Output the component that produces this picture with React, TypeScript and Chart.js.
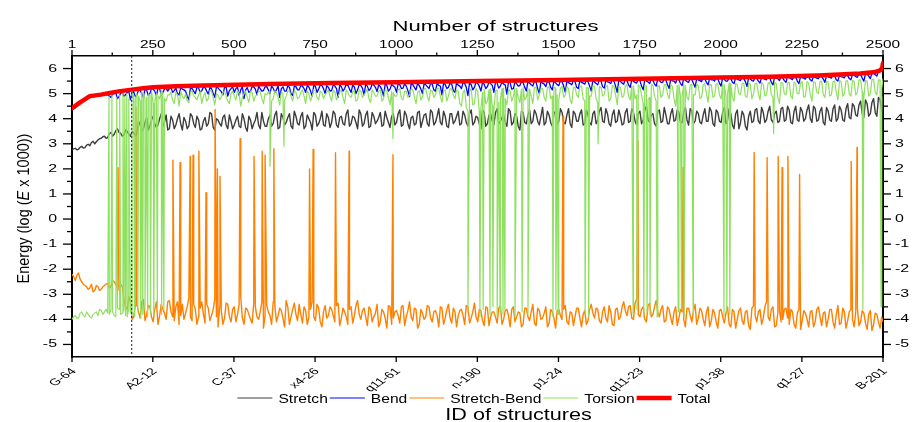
import React, { useEffect, useRef } from 'react';
import { Chart, registerables } from 'chart.js';

Chart.register(...registerables);

// ---------- axes ----------
const X_MIN = 1;
const X_MAX = 2500;
const STEP = 10; // spacing (in structures) of the sampled series below
const MID_OFFSET = 5; // the *_MID arrays are sampled half-way between
const Y_MIN = -5.5;
const Y_MAX = 6.5;
const DIVIDER_X = 185;

const TOP_TICKS = [1, 250, 500, 750, 1000, 1250, 1500, 1750, 2000, 2250, 2500];
const TOP_MINOR = [125, 375, 625, 875, 1125, 1375, 1625, 1875, 2125, 2375];
const ID_LABELS = ['G-64', 'A2-12', 'C-37', 'x4-26', 'q11-61', 'n-190', 'p1-24', 'q11-23', 'p1-38', 'q1-27', 'B-201'];
const Y_TICKS = [-5, -4, -3, -2, -1, 0, 1, 2, 3, 4, 5, 6];
const Y_MINOR = [-4.5, -3.5, -2.5, -1.5, -0.5, 0.5, 1.5, 2.5, 3.5, 4.5, 5.5];

// ---------- data ----------
const TOTAL_X = [1, 10, 26, 56, 90, 118, 150, 186, 220, 251, 320, 405, 611, 800, 1000, 1258, 1500, 1905, 2150, 2300, 2430, 2470, 2490, 2497, 2500];
const TOTAL_Y = [4.42, 4.5, 4.65, 4.9, 4.96, 5.03, 5.1, 5.16, 5.21, 5.25, 5.29, 5.32, 5.38, 5.42, 5.45, 5.5, 5.54, 5.62, 5.67, 5.72, 5.8, 5.85, 5.92, 6.0, 6.22];

const STRETCH = [
  2.75, 2.82, 2.78, 2.9, 2.85, 2.98, 3.05, 3.0, 3.15, 3.22,
  3.3, 3.25, 3.45, 3.38, 3.6, 3.42, 3.35, 3.5, 3.3, 3.45,
  3.4, 3.75, 3.6, 4.05, 3.7, 4.1, 3.65, 4.0, 3.7, 4.15,
  3.6, 3.95, 3.75, 4.2, 3.55, 3.9, 3.7, 4.1, 3.65, 3.95,
  3.6, 4.05, 3.8, 4.2, 3.55, 3.95, 3.7, 4.15, 3.6, 3.9,
  3.75, 4.1, 3.65, 4.0, 3.5, 3.95, 3.8, 4.25, 3.6, 3.9,
  3.7, 4.15, 3.8, 4.3, 3.65, 4.05, 3.85, 4.2, 3.6, 4.1,
  3.75, 4.25, 3.7, 4.0, 3.55, 4.15, 3.8, 4.3, 3.7, 4.05,
  3.85, 4.2, 3.65, 4.1, 3.75, 4.35, 3.8, 4.05, 3.6, 4.2,
  3.8, 4.3, 3.7, 4.1, 3.9, 4.25, 3.75, 4.05, 3.65, 4.2,
  3.85, 4.35, 3.75, 4.15, 3.6, 4.1, 3.8, 4.3, 3.9, 4.2,
  3.7, 4.25, 3.85, 4.4, 3.75, 4.1, 3.65, 4.2, 3.9, 4.3,
  3.8, 4.15, 3.7, 4.35, 3.85, 4.05, 3.6, 4.25, 3.8, 4.2,
  3.75, 4.4, 3.9, 4.15, 3.7, 4.3, 3.85, 4.1, 3.55, 4.25,
  3.8, 4.35, 3.9, 4.2, 3.75, 4.45, 3.85, 4.15, 3.7, 4.3,
  3.9, 4.25, 3.8, 4.4, 3.65, 4.2, 3.9, 4.35, 3.8, 4.15,
  3.75, 4.3, 3.95, 4.45, 3.85, 4.2, 3.7, 4.35, 3.9, 4.1,
  3.8, 4.4, 3.9, 4.25, 3.75, 4.3, 3.95, 4.5, 3.85, 4.2,
  3.7, 4.35, 3.9, 4.15, 3.8, 4.4, 3.95, 4.25, 3.85, 4.45,
  3.75, 4.3, 3.9, 4.2, 3.8, 4.4, 3.9, 4.3, 3.7, 4.25,
  3.85, 4.45, 3.95, 4.2, 3.6, 4.35, 3.85, 4.15, 3.55, 4.3,
  3.9, 4.4, 3.8, 4.25, 3.95, 4.5, 3.85, 4.3, 3.9, 4.45,
  3.95, 4.35, 3.8, 4.5, 3.9, 4.3, 4.0, 4.55, 3.85, 4.4,
  3.95, 4.45, 3.75, 4.3, 3.9, 4.55, 4.0, 4.35, 3.9, 4.6,
  4.0, 4.5, 4.1, 4.7, 4.05, 4.6, 4.2, 4.8, 4.1, 4.75,
  4.9,
];
const STRETCH_MID = [
  2.8, 2.76, 2.86, 2.83, 2.95, 2.92, 3.1, 3.08, 3.2, 3.28,
  3.22, 3.4, 3.3, 3.52, 3.45, 3.3, 3.55, 3.38, 3.48, 3.32,
  3.9, 3.5, 3.85, 3.55, 3.95, 3.8, 3.75, 4.2, 3.85, 3.55,
  4.1, 3.6, 4.0, 3.8, 4.05, 3.6, 4.2, 3.8, 4.1, 3.55,
  3.9, 3.7, 4.25, 3.65, 4.0, 3.8, 4.05, 3.75, 4.15, 3.6,
  3.95, 3.7, 4.2, 3.65, 4.1, 3.6, 3.95, 3.75, 4.25, 3.7,
  4.0, 3.7, 4.15, 3.6, 4.2, 3.75, 4.05, 3.7, 4.3, 3.8,
  4.1, 3.6, 4.15, 3.85, 4.25, 3.7, 4.0, 3.75, 4.2, 3.65,
  4.3, 3.75, 4.05, 3.8, 4.2, 3.7, 4.1, 3.85, 4.35, 3.7,
  4.15, 3.65, 4.25, 3.8, 4.05, 3.7, 4.3, 3.85, 4.1, 3.75,
  4.2, 3.7, 4.3, 3.8, 4.05, 3.75, 4.25, 3.65, 4.15, 3.8,
  4.35, 3.75, 4.1, 3.85, 4.3, 3.7, 4.2, 3.8, 4.1, 3.75,
  4.3, 3.85, 4.2, 3.75, 4.1, 3.8, 4.35, 3.7, 4.15, 3.9,
  4.25, 3.8, 4.05, 3.85, 4.4, 3.75, 4.2, 3.7, 4.3, 3.85,
  4.15, 3.8, 4.35, 3.9, 4.1, 3.75, 4.3, 3.85, 4.2, 3.75,
  4.4, 3.85, 4.15, 3.8, 4.3, 3.9, 4.2, 3.75, 4.35, 3.85,
  4.2, 3.8, 4.3, 3.9, 4.4, 3.8, 4.15, 3.85, 4.35, 3.75,
  4.25, 3.85, 4.4, 3.9, 4.2, 3.8, 4.35, 3.95, 4.15, 3.8,
  4.3, 3.85, 4.45, 3.8, 4.2, 3.9, 4.35, 3.85, 4.25, 3.95,
  4.4, 3.8, 4.3, 3.85, 4.15, 3.9, 4.45, 3.8, 4.35, 3.9,
  4.25, 3.8, 4.4, 3.75, 4.2, 3.6, 4.3, 3.7, 4.1, 3.85,
  4.35, 3.9, 4.45, 3.85, 4.3, 3.95, 4.2, 3.85, 4.4, 3.9,
  4.5, 3.85, 4.3, 3.95, 4.45, 3.9, 4.35, 4.0, 4.5, 3.9,
  4.3, 3.85, 4.45, 3.95, 4.4, 3.9, 4.5, 3.95, 4.4, 4.05,
  4.6, 4.15, 4.55, 4.2, 4.75, 4.1, 4.65, 4.25, 4.85, 4.3,
];

const BEND = [
  4.38, 4.43, 4.55, 4.68, 4.78, 4.84, 4.86, 4.88, 4.9, 4.92, 4.94,
  4.95, 4.85, 5.0, 4.8, 5.02, 4.9, 5.05, 4.75, 5.08,
  4.95, 5.12, 4.85, 5.15, 5.0, 5.18, 4.9, 5.2, 5.05, 5.22,
  5.2, 5.05, 5.22, 4.95, 5.18, 5.1, 4.75, 5.2, 5.0, 5.23,
  5.12, 5.24, 4.98, 5.2, 4.85, 5.22, 5.08, 5.25, 4.9, 5.2,
  5.05, 5.26, 5.15, 4.8, 5.24, 5.1, 5.27, 4.95, 5.2, 5.12,
  5.28, 5.0, 5.22, 5.15, 4.85, 5.27, 5.1, 5.25, 4.92, 5.28,
  5.15, 5.3, 5.05, 5.26, 4.9, 5.3, 5.18, 5.32, 5.0, 5.25,
  5.12, 5.3, 4.85, 5.28, 5.2, 5.33, 5.05, 5.27, 5.15, 5.32,
  4.95, 5.3, 5.2, 5.34, 5.08, 5.28, 4.9, 5.33, 5.18, 5.3,
  5.05, 5.35, 5.22, 5.3, 4.88, 5.36, 5.15, 5.32, 5.0, 5.35,
  5.2, 5.37, 5.1, 5.33, 4.95, 5.36, 5.25, 5.38, 5.05, 5.34,
  5.2, 5.4, 4.92, 5.36, 5.25, 5.41, 5.1, 5.37, 5.28, 5.4,
  5.05, 5.42, 5.3, 5.38, 4.98, 5.43, 5.2, 5.4, 5.32, 5.44,
  5.1, 5.41, 5.3, 5.45, 5.0, 5.42, 5.28, 5.46, 5.15, 5.43,
  5.32, 5.47, 5.05, 5.44, 5.35, 5.48, 5.2, 5.45, 5.38, 5.47,
  5.1, 5.46, 5.35, 5.5, 5.22, 5.47, 5.4, 5.5, 5.05, 5.48,
  5.38, 5.51, 5.25, 5.49, 5.42, 5.52, 5.15, 5.5, 5.4, 5.53,
  5.3, 5.52, 5.45, 5.54, 5.2, 5.51, 5.42, 5.55, 5.32, 5.53,
  5.45, 5.56, 5.25, 5.54, 5.48, 5.58, 5.35, 5.55, 5.5, 5.58,
  5.3, 5.57, 5.5, 5.6, 5.4, 5.57, 5.52, 5.6, 5.28, 5.58,
  5.5, 5.62, 5.42, 5.6, 5.55, 5.63, 5.35, 5.61, 5.52, 5.63,
  5.45, 5.64, 5.56, 5.66, 5.4, 5.63, 5.58, 5.66, 5.5, 5.65,
  5.6, 5.68, 5.45, 5.67, 5.62, 5.7, 5.5, 5.68, 5.63, 5.72,
  5.55, 5.73, 5.65, 5.76, 5.5, 5.78, 5.6, 5.82, 5.7, 5.9,
  6.1,
];
const BEND_MID = [
  4.4, 4.5, 4.62, 4.73, 4.81, 4.85, 4.87, 4.89, 4.91, 4.93,
  4.97, 4.9, 4.98, 5.03, 4.88, 5.05, 4.95, 5.1, 5.0, 4.88,
  5.14, 5.0, 5.17, 4.92, 5.2, 5.1, 5.22, 4.95, 5.18, 5.1,
  5.24, 5.12, 5.0, 5.23, 5.15, 4.9, 5.24, 5.1, 5.25, 5.05,
  5.26, 5.1, 5.24, 5.02, 5.27, 5.15, 4.95, 5.26, 5.12, 5.27,
  5.2, 4.92, 5.28, 5.15, 5.05, 5.28, 5.18, 5.3, 5.1, 5.27,
  5.15, 5.3, 5.05, 5.3, 5.2, 5.1, 5.31, 5.0, 5.3, 5.15,
  5.33, 5.2, 5.32, 5.1, 5.33, 5.05, 5.34, 5.2, 5.32, 5.1,
  5.35, 5.2, 5.34, 5.1, 5.36, 5.18, 5.35, 5.0, 5.36, 5.22,
  5.37, 5.12, 5.38, 5.25, 5.36, 5.15, 5.38, 5.1, 5.37, 5.25,
  5.4, 5.2, 5.39, 5.12, 5.4, 5.25, 5.41, 5.18, 5.4, 5.28,
  5.42, 5.15, 5.41, 5.3, 5.43, 5.2, 5.42, 5.12, 5.43, 5.3,
  5.45, 5.25, 5.44, 5.15, 5.46, 5.3, 5.45, 5.2, 5.46, 5.33,
  5.47, 5.22, 5.46, 5.35, 5.48, 5.18, 5.47, 5.3, 5.48, 5.25,
  5.49, 5.35, 5.5, 5.2, 5.49, 5.38, 5.5, 5.25, 5.51, 5.36,
  5.52, 5.3, 5.51, 5.4, 5.53, 5.25, 5.52, 5.42, 5.53, 5.3,
  5.54, 5.4, 5.55, 5.28, 5.54, 5.45, 5.56, 5.3, 5.55, 5.42,
  5.57, 5.35, 5.56, 5.45, 5.58, 5.3, 5.57, 5.47, 5.58, 5.38,
  5.59, 5.45, 5.6, 5.35, 5.59, 5.5, 5.6, 5.4, 5.61, 5.48,
  5.62, 5.4, 5.61, 5.52, 5.63, 5.45, 5.62, 5.55, 5.63, 5.42,
  5.64, 5.5, 5.65, 5.45, 5.64, 5.55, 5.66, 5.48, 5.65, 5.52,
  5.67, 5.5, 5.66, 5.58, 5.68, 5.45, 5.67, 5.6, 5.68, 5.52,
  5.69, 5.6, 5.7, 5.5, 5.69, 5.62, 5.71, 5.55, 5.7, 5.62,
  5.72, 5.58, 5.73, 5.65, 5.74, 5.55, 5.74, 5.66, 5.76, 5.6,
  5.77, 5.68, 5.78, 5.62, 5.8, 5.7, 5.83, 5.75, 5.88, 5.95,
];

const STRETCH_BEND = [
  -2.2, -2.45, -2.15, -2.5, -2.65, -2.8, -2.6, -2.85, -2.7, -2.8, -2.65,
  -2.55, -2.7, -2.5, -2.75,
  -2.6, -3.2, -3.6, -3.3, -3.9,
  -3.4, -3.95, -3.2, -3.8, -3.5, -4.1, -3.3, -3.85, -3.6, -4.0,
  -3.25, -3.9, -3.5, -4.2, -3.4, -3.75, -3.15, -4.05, -3.6, -3.9,
  -3.3, -4.15, -3.55, -3.85, -3.2, -4.3, -3.65, -3.95, -3.4, -4.1,
  -3.5, -3.8, -3.1, -4.2, -3.6, -4.0, -3.35, -3.9, -3.7, -4.35,
  -3.45, -3.85, -3.3, -4.1, -3.55, -3.95, -3.25, -4.2, -3.6, -3.8,
  -3.4, -4.15, -3.65, -3.9, -3.3, -4.05, -3.55, -4.3, -3.45, -3.85,
  -3.6, -4.1, -3.35, -3.95, -3.7, -4.2, -3.5, -3.85, -3.25, -4.0,
  -3.55, -4.25, -3.6, -3.9, -3.4, -4.1, -3.7, -4.35, -3.5, -3.95,
  -3.65, -4.15, -3.45, -3.9, -3.3, -4.05, -3.6, -4.2, -3.75, -3.9,
  -3.5, -4.1, -3.65, -4.3, -3.55, -3.95, -3.4, -4.15, -3.7, -3.85,
  -3.6, -4.2, -3.5, -3.95, -3.35, -4.1, -3.65, -4.25, -3.55, -3.9,
  -3.7, -4.15, -3.45, -4.0, -3.6, -4.3, -3.5, -3.9, -3.75, -4.2,
  -3.55, -4.05, -3.4, -4.25, -3.65, -3.95, -3.5, -4.15, -3.7, -4.35,
  -3.6, -4.0, -3.45, -4.2, -3.75, -3.9, -3.55, -4.3, -3.65, -4.05,
  -3.4, -3.95, -3.6, -4.15, -3.5, -4.1, -3.7, -4.25, -3.55, -3.9,
  -3.3, -3.85, -3.45, -4.0, -3.2, -3.9, -3.5, -4.1, -3.35, -3.8,
  -3.25, -3.9, -3.45, -4.05, -3.6, -4.2, -3.5, -3.95, -3.7, -4.3,
  -3.55, -4.1, -3.4, -3.95, -3.65, -4.25, -3.5, -4.05, -3.75, -4.35,
  -3.6, -4.15, -3.5, -4.3, -3.7, -4.0, -3.55, -4.2, -3.65, -4.4,
  -3.45, -4.1, -3.6, -3.95, -3.3, -4.05, -3.5, -4.25, -3.65, -4.0,
  -3.55, -4.2, -3.7, -4.35, -3.6, -4.05, -3.75, -4.3, -3.65, -4.1,
  -3.5, -4.25, -3.7, -4.0, -3.6, -4.35, -3.45, -4.15, -3.7, -4.05,
  -3.6, -4.3, -3.55, -4.1, -3.75, -4.4, -3.65, -4.2, -3.8, -4.35,
  -4.1,
];
const STRETCH_BEND_MID = [
  -2.3, -2.25, -2.4, -2.6, -2.7, -2.75, -2.9, -2.65, -2.85, -2.7,
  -2.6, -2.75, -2.45, -2.6, -2.85, -2.7, -3.5, -3.1, -4.0, -3.45,
  -3.7, -3.3, -4.05, -3.45, -3.9, -3.6, -4.2, -3.4, -3.75, -3.3,
  -3.7, -4.05, -3.3, -3.85, -4.0, -3.5, -3.9, -3.4, -4.2, -3.55,
  -3.8, -3.4, -4.05, -3.6, -3.9, -3.5, -4.2, -3.35, -3.9, -3.6,
  -4.1, -3.4, -3.95, -3.55, -3.8, -4.15, -3.5, -4.0, -3.3, -3.85,
  -3.7, -4.2, -3.45, -3.85, -3.65, -4.3, -3.5, -3.9, -3.35, -4.05,
  -3.8, -3.5, -4.2, -3.6, -3.9, -3.4, -4.1, -3.7, -3.95, -3.5,
  -3.85, -3.45, -4.25, -3.55, -3.9, -3.6, -4.15, -3.45, -3.8, -3.65,
  -3.9, -3.5, -4.1, -3.75, -4.3, -3.6, -3.95, -3.45, -4.2, -3.7,
  -3.85, -3.5, -4.25, -3.65, -3.9, -3.55, -4.35, -3.6, -4.0, -3.45,
  -3.95, -3.7, -3.85, -3.5, -4.2, -3.6, -3.95, -3.55, -4.3, -3.65,
  -3.85, -3.45, -4.15, -3.7, -3.9, -3.6, -4.05, -3.5, -4.25, -3.7,
  -3.9, -3.55, -4.2, -3.65, -3.85, -3.6, -4.1, -3.7, -4.3, -3.55,
  -3.9, -3.7, -4.15, -3.55, -4.0, -3.75, -4.3, -3.6, -3.95, -3.65,
  -3.85, -3.6, -4.1, -3.7, -4.25, -3.55, -3.95, -3.8, -4.2, -3.6,
  -3.75, -3.55, -4.05, -3.7, -3.95, -3.45, -4.2, -3.6, -4.0, -3.5,
  -3.65, -3.5, -3.95, -3.35, -3.8, -3.6, -4.0, -3.45, -3.9, -3.5,
  -3.7, -3.6, -4.1, -3.5, -3.95, -3.7, -4.25, -3.6, -4.0, -3.55,
  -3.85, -3.65, -4.2, -3.55, -4.0, -3.7, -4.3, -3.6, -4.1, -3.65,
  -3.9, -3.75, -4.2, -3.6, -4.35, -3.65, -4.05, -3.7, -4.25, -3.55,
  -3.85, -3.7, -4.2, -3.5, -3.9, -3.6, -4.3, -3.75, -4.1, -3.6,
  -3.95, -3.6, -4.2, -3.75, -4.4, -3.65, -4.0, -3.7, -4.3, -3.6,
  -3.9, -3.75, -4.3, -3.6, -4.1, -3.8, -4.2, -3.55, -4.35, -3.7,
  -4.0, -3.7, -4.25, -3.65, -4.15, -3.8, -4.45, -3.75, -4.1, -3.9,
];

// isolated high Stretch-Bend structures: [structure number, value]
const STRETCH_BEND_SPIKES = [
  [143, 2.05], [198, 4.45], [312, 2.35], [334, 2.25], [365, 2.5], [374, 2.55], [392, 2.7],
  [414, 1.05], [442, 4.37], [449, 2.0], [457, 1.7], [519, 3.2], [562, 2.5], [587, 2.7],
  [596, 2.55], [623, 2.8], [733, 2.0], [744, 2.77], [813, 2.64], [855, 2.7], [990, 2.57],
  [1514, 4.1], [1745, 3.1], [1884, 2.05], [2103, 2.65], [2143, 2.45], [2177, 2.5],
  [2189, 2.05], [2207, 2.5], [2243, 1.78], [2402, 2.3], [2420, 2.85],
];

const TORSION = [
  -4.0, -3.85, -3.95, -3.7, -3.9, -3.8, -3.95, -3.75, -3.85, -3.65, -3.7,
  -3.75, -3.6, -3.85, -3.55, -3.8, -3.65, -3.9, -3.7,
  4.9, 5.0, 4.7, 5.05, 4.85, 4.95, 4.6, 5.0, 4.8, 5.05, 4.7,
  4.95, 4.75, 5.05, 4.5, 4.9, 5.0, 4.65, 5.1, 4.85, 4.95,
  4.6, 5.05, 4.8, 5.1, 4.55, 4.95, 4.85, 5.1, 4.7, 5.0,
  4.9, 5.12, 4.5, 5.0, 4.85, 5.1, 4.7, 4.95, 5.08, 4.6,
  4.95, 5.1, 4.8, 5.05, 4.55, 5.0, 4.9, 5.12, 4.7, 5.05,
  4.85, 5.15, 4.6, 5.0, 4.9, 5.1, 4.75, 5.05, 4.95, 5.15,
  4.7, 5.08, 4.9, 5.15, 4.6, 5.05, 4.85, 5.12, 4.75, 5.1,
  4.95, 5.18, 4.65, 5.05, 4.9, 5.15, 4.8, 5.1, 4.55, 5.05,
  4.9, 5.2, 4.75, 5.1, 4.95, 5.15, 4.6, 5.12, 4.85, 5.2,
  4.7, 5.1, 4.95, 5.22, 4.65, 5.15, 4.9, 5.18, 4.8, 5.1,
  4.5, 5.15, 4.3, 5.2, 4.6, 5.1, 4.4, 5.18, 4.7, 5.2,
  4.35, 5.15, 4.8, 5.22, 4.55, 5.12, 4.9, 5.2, 4.65, 5.25,
  4.85, 5.18, 4.6, 5.25, 4.95, 5.2, 4.7, 5.28, 4.9, 5.22,
  4.75, 5.3, 4.95, 5.2, 4.6, 5.25, 4.85, 5.3, 4.7, 5.22,
  4.9, 5.3, 4.65, 5.25, 4.95, 5.32, 4.8, 5.28, 4.55, 5.25,
  4.9, 5.35, 4.75, 5.3, 4.95, 5.28, 4.6, 5.32, 4.85, 5.35,
  4.7, 5.3, 4.95, 5.36, 4.8, 5.3, 4.5, 5.35, 4.9, 5.32,
  4.75, 5.38, 4.95, 5.3, 4.85, 5.4, 4.65, 5.35, 4.9, 5.38,
  4.8, 5.36, 5.0, 5.4, 4.7, 5.35, 4.95, 5.42, 4.85, 5.38,
  5.0, 5.42, 4.75, 5.38, 4.95, 5.45, 4.85, 5.4, 4.6, 5.42,
  4.95, 5.45, 4.8, 5.4, 5.0, 5.48, 4.9, 5.42, 4.7, 5.46,
  5.0, 5.5, 4.85, 5.45, 4.95, 5.5, 4.75, 5.48, 5.0, 5.52,
  4.9, 5.5, 5.05, 5.55, 4.85, 5.5, 5.0, 5.58, 4.95, 5.55,
  5.6,
];
const TORSION_MID = [
  -3.9, -3.95, -3.75, -3.85, -3.7, -3.9, -3.8, -3.7, -3.6, -3.8,
  -3.6, -3.8, -3.7, -3.9, -3.6, -3.75, -3.85, -3.55, -3.8, 4.8,
  4.9, 5.05, 4.75, 4.95, 5.1, 4.7, 4.9, 5.1, 4.8, 4.95,
  5.05, 4.6, 4.95, 5.1, 4.8, 4.7, 5.05, 4.9, 4.75, 5.08,
  4.9, 4.7, 5.12, 4.85, 5.0, 4.75, 5.05, 4.9, 4.6, 5.1,
  4.75, 5.0, 4.85, 5.1, 4.65, 5.05, 4.9, 5.1, 4.8, 5.0,
  5.05, 4.7, 5.1, 4.85, 5.08, 4.75, 5.1, 4.9, 5.12, 4.8,
  5.05, 4.9, 5.1, 4.7, 5.15, 4.85, 5.1, 4.8, 5.05, 4.9,
  5.12, 4.75, 5.05, 4.85, 5.15, 4.9, 5.08, 4.7, 5.15, 4.85,
  5.05, 4.8, 5.15, 4.9, 5.1, 4.7, 5.15, 4.85, 5.1, 4.9,
  5.15, 4.8, 5.1, 4.85, 5.18, 4.9, 5.05, 4.75, 5.2, 4.9,
  5.15, 4.85, 5.2, 4.9, 5.1, 4.7, 5.2, 4.95, 5.15, 4.6,
  5.05, 4.45, 5.1, 4.55, 5.2, 4.3, 5.05, 4.6, 5.15, 4.5,
  5.1, 4.65, 5.2, 4.8, 5.15, 4.7, 5.22, 4.85, 5.18, 4.75,
  5.2, 4.9, 5.25, 4.75, 5.2, 4.85, 5.25, 4.8, 5.28, 4.95,
  5.2, 4.85, 5.28, 4.75, 5.25, 4.95, 5.3, 4.8, 5.25, 4.9,
  5.3, 4.8, 5.28, 4.9, 5.3, 4.7, 5.32, 4.95, 5.28, 4.85,
  5.32, 4.9, 5.3, 4.8, 5.35, 4.95, 5.3, 4.75, 5.35, 4.9,
  5.33, 4.85, 5.35, 4.95, 5.36, 4.8, 5.32, 4.9, 5.38, 4.85,
  5.35, 4.95, 5.4, 4.8, 5.36, 5.0, 5.38, 4.85, 5.4, 4.95,
  5.38, 4.9, 5.42, 4.85, 5.4, 5.0, 5.4, 4.9, 5.42, 4.8,
  5.4, 5.0, 5.44, 4.9, 5.42, 4.95, 5.45, 4.85, 5.44, 5.0,
  5.42, 4.9, 5.46, 5.0, 5.45, 4.85, 5.48, 4.95, 5.46, 5.05,
  5.48, 4.95, 5.5, 4.9, 5.48, 5.05, 5.52, 4.9, 5.5, 5.0,
  5.52, 4.95, 5.55, 5.05, 5.52, 4.9, 5.56, 5.05, 5.55, 5.2,
];

// isolated Torsion structures that break away from the local level: [structure number, value]
const TORSION_SPIKES = [
  [115, 4.9], [124, 5.0], [139, 4.85], [148, 4.95], [158, 5.05], [164, 4.9], [170, 5.0], [176, 4.8], [186, 5.05],
  [194, -3.9], [204, -3.7], [213, -3.95], [219, -3.8], [226, -3.6], [234, -3.9], [243, -3.75], [253, -3.85],
  [264, -3.5], [277, -3.8], [284, -3.6],
  [611, 2.1], [654, 2.9], [990, 3.2],
  [1221, -3.7], [1258, -3.9], [1268, -3.6], [1289, -3.8], [1298, -3.5], [1311, -3.9], [1320, -3.7],
  [1329, -3.8], [1335, -3.6], [1366, -3.9], [1388, -3.7], [1406, -3.8], [1483, -3.9], [1492, -3.6],
  [1499, -3.8], [1582, -3.7], [1593, -3.9], [1622, 3.0], [1730, -3.8], [1742, -3.6], [1763, -3.9],
  [1773, -3.7], [1782, -3.8], [1804, -3.9], [1869, -3.7], [1879, -3.6], [1887, -3.9], [1915, -3.8],
  [2010, -3.9], [2019, -3.7], [2028, -3.8], [2163, 3.4], [2438, -3.6], [2494, -3.5],
];

const FONT = "'Liberation Sans', Arial, Helvetica, sans-serif";

function makeSeries(base: number[], mid: number[], extra: number[][]) {
  const pts = base.map((y, i) => ({ x: Math.min(X_MIN + i * STEP, X_MAX), y }));
  mid.forEach((y, i) => pts.push({ x: X_MIN + MID_OFFSET + i * STEP, y }));
  extra.forEach(([x, y]) => pts.push({ x, y }));
  pts.sort((a, b) => a.x - b.x);
  return pts;
}

function scaledText(
  ctx: CanvasRenderingContext2D, text: string, x: number, y: number, size: number, sx: number,
  align: CanvasTextAlign, baseline: CanvasTextBaseline, angle = 0,
) {
  ctx.save();
  ctx.translate(x, y);
  ctx.scale(sx, 1);
  if (angle) ctx.rotate(angle);
  ctx.font = `${size}px ${FONT}`;
  ctx.textAlign = align;
  ctx.textBaseline = baseline;
  ctx.fillText(text, 0, 0);
  ctx.restore();
}

function seg(ctx: CanvasRenderingContext2D, x1: number, y1: number, x2: number, y2: number) {
  ctx.beginPath();
  ctx.moveTo(x1, y1);
  ctx.lineTo(x2, y2);
  ctx.stroke();
}

const decorPlugin = {
  id: 'decor',
  afterDatasetsDraw(chart: any) {
    const { ctx, chartArea, scales } = chart;
    const px = scales.x.getPixelForValue(DIVIDER_X);
    ctx.save();
    ctx.strokeStyle = '#222';
    ctx.lineWidth = 1;
    ctx.setLineDash([2, 2]);
    seg(ctx, px, chartArea.top, px, chartArea.bottom);
    ctx.restore();
  },
  afterDraw(chart: any) {
    const { ctx, chartArea, scales } = chart;
    const { left, right, top, bottom } = chartArea;
    const ys = scales.y;
    const xs = scales.x;
    const xt = scales.x2;
    ctx.save();
    ctx.strokeStyle = '#000';
    ctx.fillStyle = '#000';
    ctx.lineWidth = 1.3;

    Y_TICKS.forEach((v) => {
      const py = ys.getPixelForValue(v);
      seg(ctx, left, py, left - 9, py);
      seg(ctx, right, py, right + 8, py);
      scaledText(ctx, String(v), left - 15, py, 11, 1.45, 'right', 'middle');
      scaledText(ctx, String(v), right + 12, py, 11, 1.45, 'left', 'middle');
    });
    Y_MINOR.forEach((v) => {
      const py = ys.getPixelForValue(v);
      seg(ctx, left, py, left - 5, py);
      seg(ctx, right, py, right + 5, py);
    });

    TOP_TICKS.forEach((v) => {
      const p = xt.getPixelForValue(v);
      seg(ctx, p, top, p, top - 6);
      scaledText(ctx, String(v), p, top - 8, 11, 1.4, 'center', 'alphabetic');
    });
    TOP_MINOR.forEach((v) => {
      const p = xt.getPixelForValue(v);
      seg(ctx, p, top, p, top - 3.5);
    });

    TOP_TICKS.forEach((v, i) => {
      const p = xs.getPixelForValue(v);
      seg(ctx, p, bottom, p, bottom + 5);
      scaledText(ctx, ID_LABELS[i], p + 2, bottom + 13, 9.5, 1.5, 'right', 'middle', -Math.PI / 4);
    });

    const cx = (left + right) / 2;
    scaledText(ctx, 'Number of structures', cx + 18, 31, 15, 1.47, 'center', 'alphabetic');
    scaledText(ctx, 'ID of structures', cx + 41, 420, 16, 1.35, 'center', 'alphabetic');

    // y-axis title with italic E
    ctx.save();
    ctx.translate(24.5, (top + bottom) / 2 + 2);
    ctx.scale(1.1, 1);
    ctx.rotate(-Math.PI / 2);
    const parts: [string, boolean][] = [['Energy (log (', false], ['E', true], [' x 1000))', false]];
    const widths = parts.map(([t, it]) => {
      ctx.font = `${it ? 'italic ' : ''}14.5px ${FONT}`;
      return ctx.measureText(t).width;
    });
    let pos = -widths.reduce((a, b) => a + b, 0) / 2;
    ctx.textBaseline = 'middle';
    ctx.textAlign = 'left';
    parts.forEach(([t, it], i) => {
      ctx.font = `${it ? 'italic ' : ''}14.5px ${FONT}`;
      ctx.fillText(t, pos, 0);
      pos += widths[i];
    });
    ctx.restore();

    // legend
    const SX = 1.2;
    const LINE = 35;
    const G1 = 6;
    const G2 = 2;
    ctx.font = `13px ${FONT}`;
    const items = chart.data.datasets.map((d: any) => ({
      label: d.label, color: d.borderColor, width: d.legendWidth, w: ctx.measureText(d.label).width * SX,
    }));
    const total = items.reduce((a: number, it: any) => a + LINE + G1 + it.w, 0) + G2 * (items.length - 1);
    let xp = cx - 3.5 - total / 2;
    const ly = 398;
    items.forEach((it: any) => {
      ctx.save();
      ctx.strokeStyle = it.color;
      ctx.lineWidth = it.width;
      seg(ctx, xp, ly, xp + LINE, ly);
      ctx.restore();
      xp += LINE + G1;
      scaledText(ctx, it.label, xp, 403, 13, SX, 'left', 'alphabetic');
      xp += it.w + G2;
    });
    ctx.restore();
  },
};

export default function App() {
  const ref = useRef<HTMLCanvasElement>(null);
  useEffect(() => {
    const common = { pointRadius: 0, tension: 0, fill: false, borderJoinStyle: 'round' as const };
    const chart = new Chart(ref.current as HTMLCanvasElement, {
      type: 'line',
      data: {
        datasets: [
          { label: 'Stretch', data: makeSeries(STRETCH, STRETCH_MID, []), borderColor: '#3c3c3c', borderWidth: 1.4, legendWidth: 1, order: 4, ...common },
          { label: 'Bend', data: makeSeries(BEND, BEND_MID, []), borderColor: '#0000ff', borderWidth: 1.3, legendWidth: 1, order: 3, ...common },
          { label: 'Stretch-Bend', data: makeSeries(STRETCH_BEND, STRETCH_BEND_MID, STRETCH_BEND_SPIKES), borderColor: '#ff8000', borderWidth: 1.4, legendWidth: 1, order: 2, ...common },
          { label: 'Torsion', data: makeSeries(TORSION, TORSION_MID, TORSION_SPIKES), borderColor: '#8fe060', borderWidth: 1.2, legendWidth: 1, order: 1, ...common },
          { label: 'Total', data: TOTAL_X.map((x, i) => ({ x, y: TOTAL_Y[i] })), borderColor: '#ff0000', borderWidth: 4.5, legendWidth: 4.5, order: 0, borderCapStyle: 'round', ...common },
        ] as any,
      },
      options: {
        animation: false,
        responsive: true,
        maintainAspectRatio: false,
        devicePixelRatio: 1,
        events: [],
        layout: { padding: 0 },
        plugins: { legend: { display: false }, title: { display: false }, tooltip: { enabled: false } },
        scales: {
          x: {
            type: 'linear', position: 'bottom', min: X_MIN, max: X_MAX,
            grid: { display: false }, ticks: { display: false },
            border: { display: true, color: '#000', width: 1.5 },
            afterFit: (s: any) => { s.height = 65; },
          },
          x2: {
            type: 'linear', position: 'top', min: X_MIN, max: X_MAX,
            grid: { display: false }, ticks: { display: false },
            border: { display: true, color: '#000', width: 1.5 },
            afterFit: (s: any) => { s.height = 56; },
          },
          y: {
            type: 'linear', position: 'left', min: Y_MIN, max: Y_MAX,
            grid: { display: false }, ticks: { display: false },
            border: { display: true, color: '#000', width: 2 },
            afterFit: (s: any) => { s.width = 72; },
          },
          y2: {
            type: 'linear', position: 'right', min: Y_MIN, max: Y_MAX,
            grid: { display: false }, ticks: { display: false },
            border: { display: true, color: '#000', width: 2 },
            afterFit: (s: any) => { s.width = 29; },
          },
        } as any,
      },
      plugins: [decorPlugin],
    });
    return () => chart.destroy();
  }, []);
  return (
    <div style={{ position: 'fixed', left: 0, top: 0, width: 912, height: 422, background: '#fff' }}>
      <canvas ref={ref} />
    </div>
  );
}
